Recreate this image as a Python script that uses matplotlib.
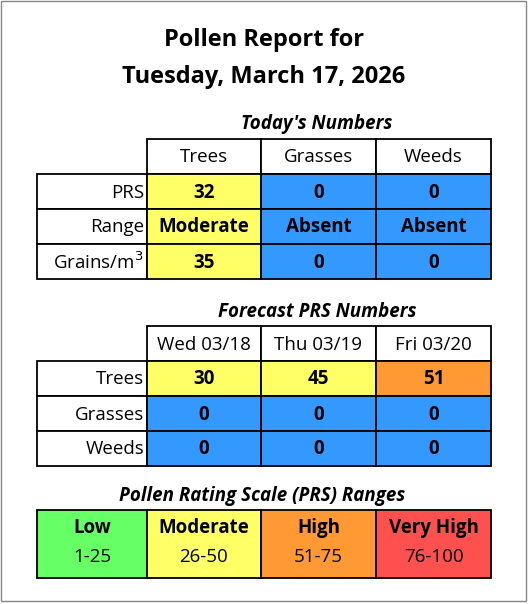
import matplotlib
matplotlib.use("Agg")
import matplotlib.pyplot as plt
from matplotlib.patches import Rectangle

plt.rcParams['font.family'] = ['Open Sans', 'DejaVu Sans']

title_lines = ["Pollen Report for", "Tuesday, March 17, 2026"]
types = ["Trees", "Grasses", "Weeds"]
today_rows = ["PRS", "Range", "Grains/m$^3$"]
today_prs = [32, 0, 0]
today_range = ["Moderate", "Absent", "Absent"]
today_grains = [35, 0, 0]
forecast_days = ["Wed 03/18", "Thu 03/19", "Fri 03/20"]
forecast_trees = [30, 45, 51]
forecast_grasses = [0, 0, 0]
forecast_weeds = [0, 0, 0]
scale_names = ["Low", "Moderate", "High", "Very High"]
scale_ranges = ["1-25", "26-50", "51-75", "76-100"]
scale_colors = ["#66FF66", "#FFFF66", "#FF9933", "#FF5050"]

YEL, BLU, ORA, RED, GRN = "#FFFF66", "#3399FF", "#FF9933", "#FF5050", "#66FF66"

def color_for(v):
    if v == 0: return BLU
    if v <= 25: return GRN
    if v <= 50: return YEL
    if v <= 75: return ORA
    return RED

fig = plt.figure(figsize=(5.28, 6.04), dpi=100)
ax = fig.add_axes([0, 0, 1, 1])
ax.set_xlim(0, 528); ax.set_ylim(604, 0); ax.axis('off')
ax.add_patch(Rectangle((1, 1), 525, 600, fill=False, ec="#888888", lw=1))

ax.text(264, 40, title_lines[0], ha='center', va='center', fontsize=17, fontweight='bold')
ax.text(264, 77, title_lines[1], ha='center', va='center', fontsize=17, fontweight='bold')

xs = [37, 147, 261, 376, 491]
FS = 13.5

def cell(x0, x1, y0, y1, color="white"):
    ax.add_patch(Rectangle((x0, y0), x1 - x0, y1 - y0, fc=color, ec="black", lw=1.3))

def block(title, ty, top, headers, rowlabels, rows, colors):
    ax.text(317, ty, title, ha='center', va='center', fontsize=13.5, fontweight='bold', style='italic')
    h = 35
    for j, hd in enumerate(headers):
        cell(xs[j+1], xs[j+2], top, top + h)
        ax.text((xs[j+1] + xs[j+2]) / 2, top + h / 2 + 1, hd, ha='center', va='center', fontsize=FS)
    for i, (lab, vals, cols) in enumerate(zip(rowlabels, rows, colors)):
        y0 = top + h * (i + 1)
        cell(xs[0], xs[1], y0, y0 + h)
        ax.text(xs[1] - 3, y0 + h / 2 + 1, lab, ha='right', va='center', fontsize=FS)
        for j, (v, c) in enumerate(zip(vals, cols)):
            cell(xs[j+1], xs[j+2], y0, y0 + h, c)
            ax.text((xs[j+1] + xs[j+2]) / 2, y0 + h / 2 + 1, str(v), ha='center', va='center',
                    fontsize=FS, fontweight='bold')

block("Today's Numbers", 124, 139, types, today_rows,
      [today_prs, today_range, today_grains],
      [[color_for(v) for v in today_prs], [color_for(v) for v in today_prs],
       [color_for(v) for v in today_prs]])
block("Forecast PRS Numbers", 312, 326, forecast_days, types,
      [forecast_trees, forecast_grasses, forecast_weeds],
      [[color_for(v) for v in forecast_trees], [color_for(v) for v in forecast_grasses],
       [color_for(v) for v in forecast_weeds]])

ax.text(262, 496, "Pollen Rating Scale (PRS) Ranges", ha='center', va='center', fontsize=13.5,
        fontweight='bold', style='italic')
for j, (n, r, c) in enumerate(zip(scale_names, scale_ranges, scale_colors)):
    cell(xs[j], xs[j+1], 510, 578, c)
    cx = (xs[j] + xs[j+1]) / 2
    ax.text(cx, 528, n, ha='center', va='center', fontsize=FS, fontweight='bold')
    ax.text(cx, 557, r, ha='center', va='center', fontsize=FS)

fig.savefig("out.png", dpi=100)
